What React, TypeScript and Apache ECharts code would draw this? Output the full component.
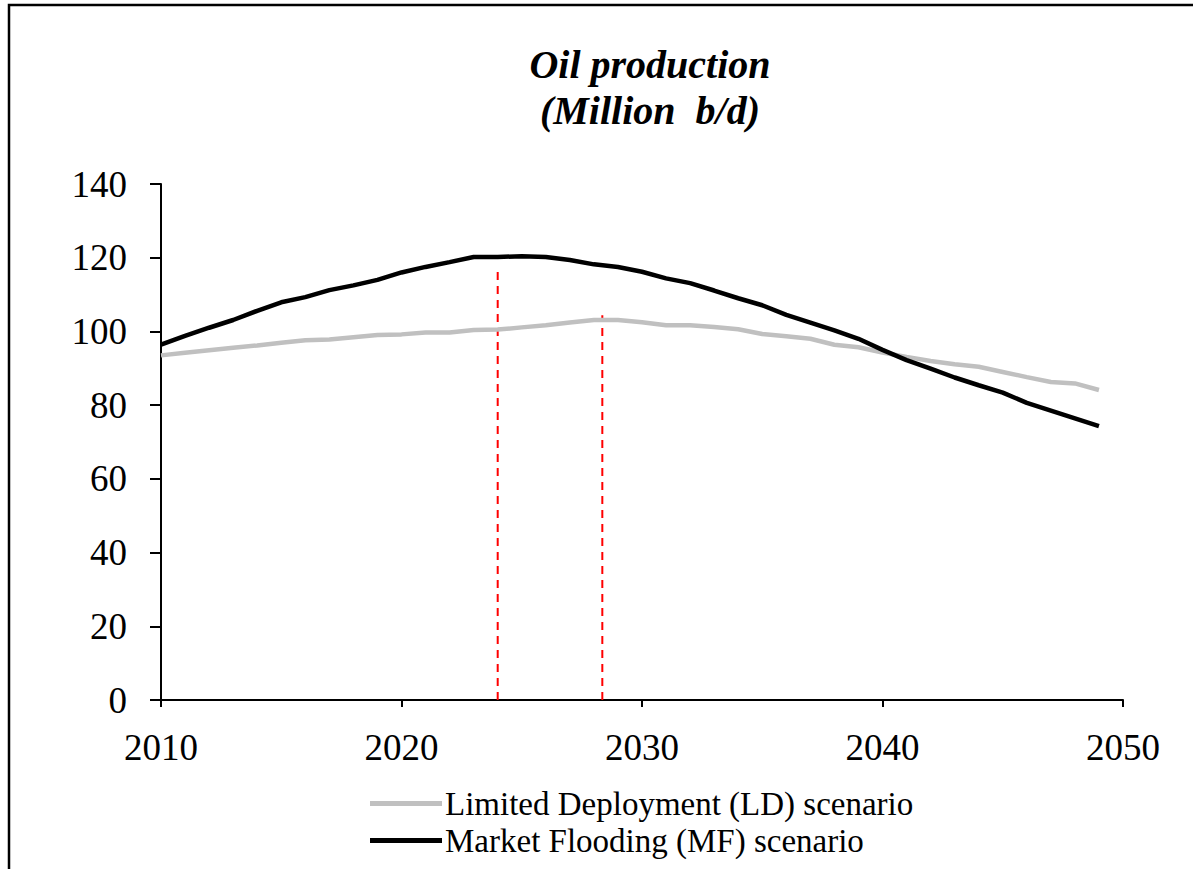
import React, { useEffect, useRef } from "react";
import * as echarts from "echarts";

const years: number[] = [
  2010, 2011, 2012, 2013, 2014, 2015, 2016, 2017, 2018, 2019,
  2020, 2021, 2022, 2023, 2024, 2025, 2026, 2027, 2028, 2029,
  2030, 2031, 2032, 2033, 2034, 2035, 2036, 2037, 2038, 2039,
  2040, 2041, 2042, 2043, 2044, 2045, 2046, 2047, 2048, 2049,
];

const ldValues: number[] = [
  93.5, 94.2, 94.9, 95.6, 96.2, 96.9, 97.6, 97.8, 98.4, 99.0,
  99.2, 99.7, 99.7, 100.4, 100.5, 101.1, 101.7, 102.4, 103.1, 103.1,
  102.5, 101.7, 101.7, 101.2, 100.6, 99.3, 98.7, 98.0, 96.4, 95.7,
  94.3, 93.1, 92.0, 91.1, 90.4, 89.0, 87.6, 86.3, 85.9, 84.1,
];

const mfValues: number[] = [
  96.4, 98.8, 101.0, 103.1, 105.6, 107.9, 109.3, 111.2, 112.5, 114.0,
  116.0, 117.5, 118.8, 120.2, 120.2, 120.4, 120.2, 119.4, 118.2, 117.5,
  116.2, 114.4, 113.1, 111.1, 109.0, 107.1, 104.5, 102.4, 100.3, 98.0,
  95.0, 92.2, 89.9, 87.5, 85.4, 83.4, 80.6, 78.5, 76.4, 74.3,
];

const peakMarkers: [number, number][] = [
  [2024, 116.7],
  [2028.35, 104.4],
];

const xTicks = { min: 2010, max: 2050, interval: 10 };
const yTicks = { min: 0, max: 140, interval: 20 };

const seriesNames = [
  "Limited Deployment (LD) scenario",
  "Market Flooding (MF) scenario",
];

const titleLines = ["Oil production", "(Million  b/d)"];

const FONT = "'Liberation Serif', 'Times New Roman', serif";

export default function App() {
  const ref = useRef<HTMLDivElement>(null);

  useEffect(() => {
    if (!ref.current) return;
    const chart = echarts.init(ref.current, undefined, { renderer: "svg" });

    const markerSeries = peakMarkers.map((m, i) => ({
      name: "peak" + i,
      type: "line",
      data: [
        [m[0], 0],
        [m[0], m[1]],
      ],
      showSymbol: false,
      symbol: "none",
      lineStyle: { color: "#ff0000", width: 2, type: [8, 6] },
      z: 1,
      silent: true,
    }));

    chart.setOption({
      animation: false,
      backgroundColor: "#ffffff",
      title: {
        text: titleLines.join("\n"),
        left: 645,
        top: 36,
        textAlign: "center",
        textStyle: {
          fontFamily: FONT,
          fontStyle: "italic",
          fontWeight: "bold",
          fontSize: 40,
          lineHeight: 46,
          color: "#000",
        },
      },
      grid: {
        left: 161,
        right: 70,
        top: 184,
        bottom: 169,
        containLabel: false,
      },
      legend: {
        data: seriesNames.map((n) => ({ name: n, icon: "rect" })),
        orient: "vertical",
        left: 365,
        top: 782,
        itemWidth: 72,
        itemHeight: 5,
        itemGap: 4,
        selectedMode: false,
        textStyle: {
          fontFamily: FONT,
          fontSize: 33,
          color: "#000",
          padding: [0, 0, 0, -2],
        },
      },
      xAxis: {
        type: "value",
        min: xTicks.min,
        max: xTicks.max,
        interval: xTicks.interval,
        axisLine: { show: true, onZero: false, lineStyle: { color: "#000", width: 2 } },
        axisTick: { show: true, length: 7, lineStyle: { color: "#000", width: 2 } },
        splitLine: { show: false },
        axisLabel: {
          fontFamily: FONT,
          fontSize: 37,
          color: "#000",
          margin: 29,
          formatter: (v: number) => String(v),
        },
      },
      yAxis: {
        type: "value",
        min: yTicks.min,
        max: yTicks.max,
        interval: yTicks.interval,
        axisLine: { show: true, lineStyle: { color: "#000", width: 2 } },
        axisTick: { show: true, length: 11, lineStyle: { color: "#000", width: 2 } },
        splitLine: { show: false },
        axisLabel: {
          fontFamily: FONT,
          fontSize: 37,
          color: "#000",
          margin: 34,
        },
      },
      graphic: [
        {
          type: "rect",
          shape: { x: 9, y: 5, width: 1400, height: 1200 },
          style: { fill: "none", stroke: "#000", lineWidth: 2.5 },
          silent: true,
          z: 100,
        },
      ],
      series: [
        {
          name: seriesNames[0],
          type: "line",
          data: years.map((y, i) => [y, ldValues[i]]),
          showSymbol: false,
          symbol: "none",
          color: "#c0c0c0",
          itemStyle: { color: "#c0c0c0" },
          lineStyle: { color: "#c0c0c0", width: 4.5 },
          z: 2,
        },
        {
          name: seriesNames[1],
          type: "line",
          data: years.map((y, i) => [y, mfValues[i]]),
          showSymbol: false,
          symbol: "none",
          color: "#000000",
          itemStyle: { color: "#000000" },
          lineStyle: { color: "#000000", width: 4.5 },
          z: 3,
        },
        ...markerSeries,
      ],
    });

    return () => chart.dispose();
  }, []);

  return (
    <div
      ref={ref}
      style={{ position: "absolute", left: 0, top: 0, width: 1193, height: 869 }}
    />
  );
}
